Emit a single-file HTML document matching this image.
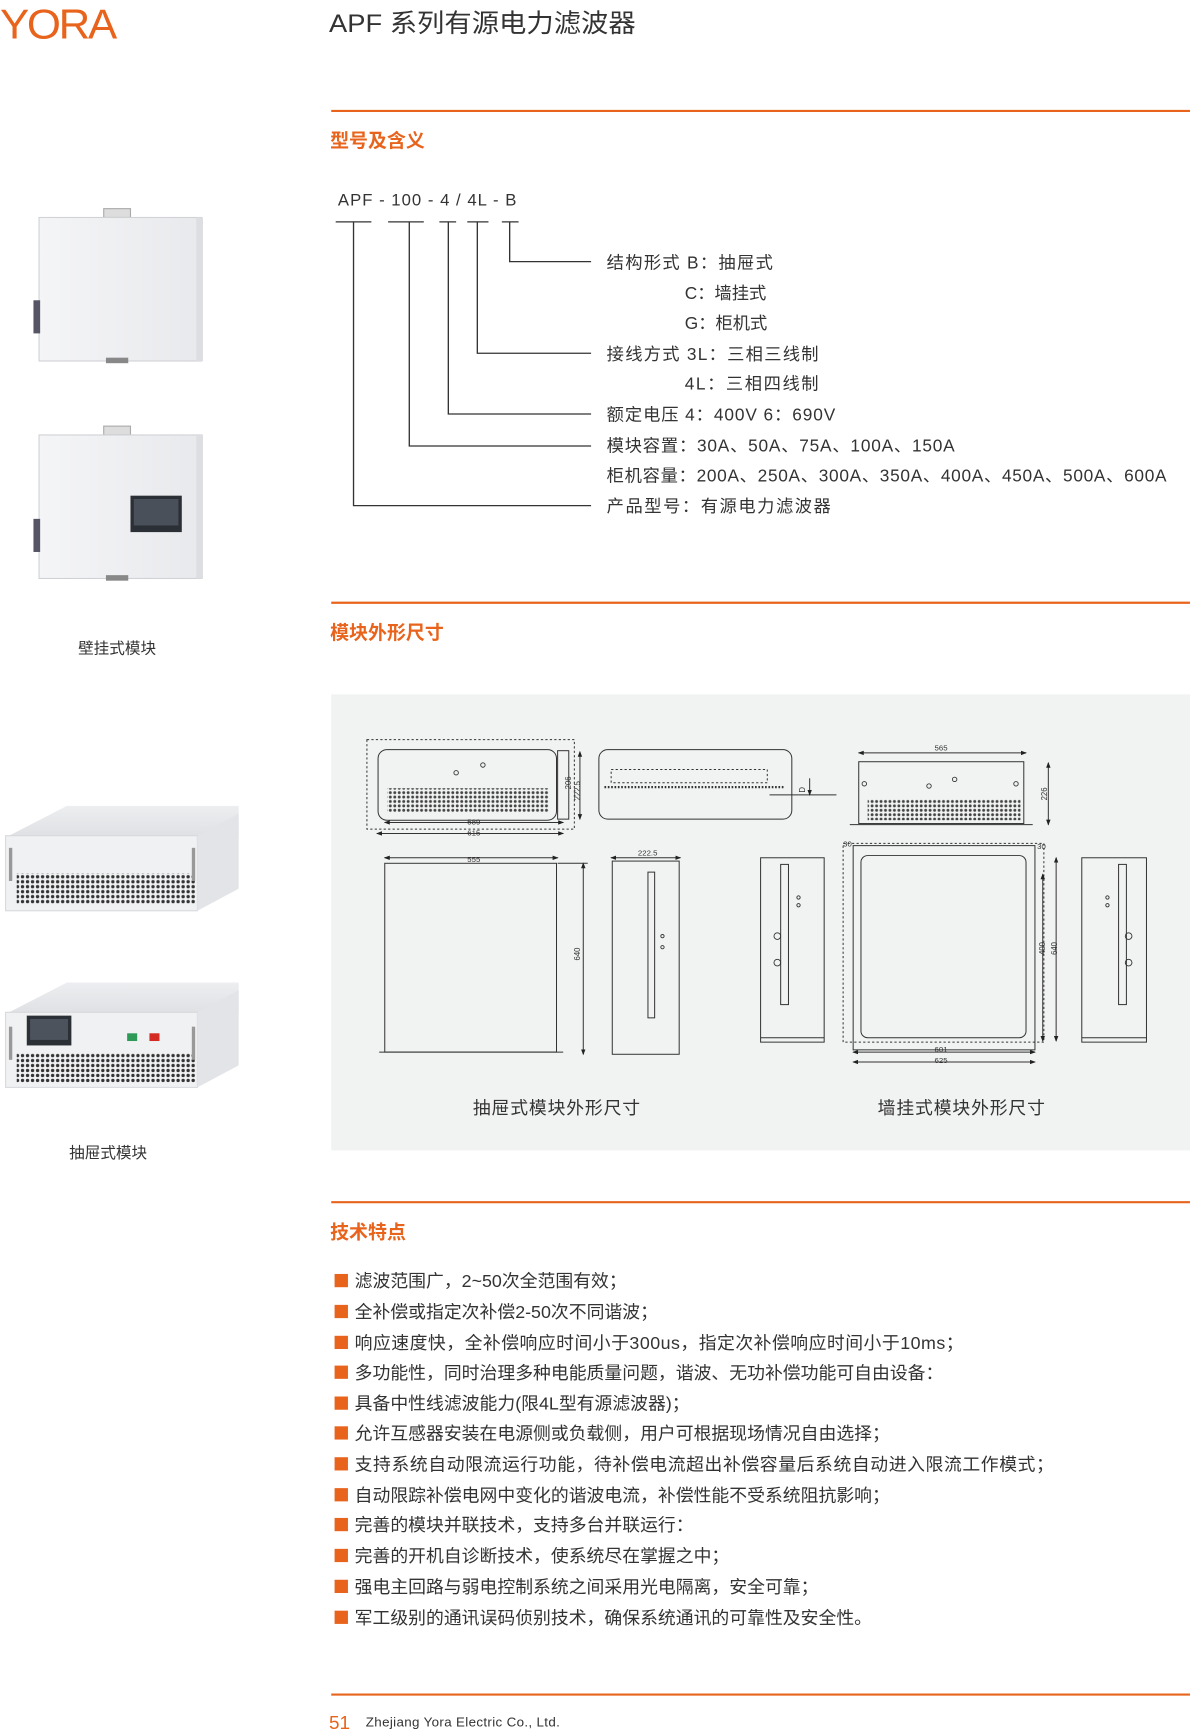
<!DOCTYPE html>
<html><head><meta charset="utf-8"><style>
html,body{margin:0;padding:0;background:#fff;}
svg{display:block;}
text{font-family:"Liberation Sans","Noto Sans CJK SC",sans-serif;}
</style></head><body>
<svg width="1200" height="1731" viewBox="0 0 1076 1568" preserveAspectRatio="none" xmlns="http://www.w3.org/2000/svg">
<defs>
<pattern id="hex" width="4" height="4" patternUnits="userSpaceOnUse"><circle cx="2" cy="2" r="1.3" fill="#444"/></pattern>
<pattern id="hex2" width="4.5" height="4.5" patternUnits="userSpaceOnUse"><circle cx="2.2" cy="2.2" r="1.5" fill="#333"/></pattern>
<linearGradient id="wall" x1="0" x2="1"><stop offset="0" stop-color="#f4f5f7"/><stop offset="1" stop-color="#e8e9ec"/></linearGradient>
<linearGradient id="top" x1="0" y1="0" x2="0" y2="1"><stop offset="0" stop-color="#eceef0"/><stop offset="1" stop-color="#dfe1e4"/></linearGradient>
<marker id="ar" markerWidth="6" markerHeight="6" refX="5" refY="3" orient="auto-start-reverse"><path d="M0,0.8 L6,3 L0,5.2z" fill="#222"/></marker>
</defs>

<!-- header -->
<text x="0" y="35" font-size="38" fill="#e8641c" letter-spacing="-2" textLength="103" lengthAdjust="spacingAndGlyphs">YORA</text>
<text x="295" y="29" font-size="23" fill="#333" textLength="275" lengthAdjust="spacingAndGlyphs">APF 系列有源电力滤波器</text>

<!-- section 1 -->
<line x1="297" y1="100.5" x2="1067" y2="100.5" stroke="#e8641c" stroke-width="2"/>
<text x="296" y="133" font-size="17" font-weight="bold" fill="#e8641c">型号及含义</text>

<g font-size="15" fill="#333">
<text x="303" y="186" textLength="160" lengthAdjust="spacing">APF  -  100  - 4 / 4L - B</text>
</g>
<g stroke="#333" stroke-width="1.2" fill="none">
<line x1="301" y1="201" x2="333" y2="201"/>
<line x1="348" y1="201" x2="380" y2="201"/>
<line x1="394" y1="201" x2="409" y2="201"/>
<line x1="419" y1="201" x2="438" y2="201"/>
<line x1="450" y1="201" x2="465" y2="201"/>
<polyline points="457,201 457,237 530,237"/>
<polyline points="428,201 428,320 530,320"/>
<polyline points="402,201 402,375 530,375"/>
<polyline points="367,201 367,404 530,404"/>
<polyline points="317,201 317,458 530,458"/>
</g>
<g font-size="15.5" fill="#333">
<text x="544" y="243" textLength="149" lengthAdjust="spacing">结构形式 B：抽屉式</text>
<text x="614" y="271">C：墙挂式</text>
<text x="614" y="298">G：柜机式</text>
<text x="544" y="326" textLength="190" lengthAdjust="spacing">接线方式 3L：三相三线制</text>
<text x="614" y="353" textLength="120" lengthAdjust="spacing">4L：三相四线制</text>
<text x="544" y="381" textLength="205" lengthAdjust="spacing">额定电压 4：400V  6：690V</text>
<text x="544" y="409" textLength="312" lengthAdjust="spacing">模块容置：30A、50A、75A、100A、150A</text>
<text x="544" y="436" textLength="502" lengthAdjust="spacing">柜机容量：200A、250A、300A、350A、400A、450A、500A、600A</text>
<text x="544" y="464" textLength="201" lengthAdjust="spacing">产品型号：有源电力滤波器</text>
</g>

<!-- wall module photos -->
<g>
<rect x="93" y="189" width="24" height="8" fill="#ddd" stroke="#aaa"/>
<rect x="35" y="197" width="146" height="130" fill="url(#wall)" stroke="#d0d2d5"/>
<rect x="176" y="197" width="6" height="130" fill="#dcdee1"/>
<rect x="30" y="272" width="6" height="30" fill="#556"/>
<rect x="95" y="324" width="20" height="5" fill="#888"/>
</g>
<g>
<rect x="93" y="386" width="24" height="8" fill="#ddd" stroke="#aaa"/>
<rect x="35" y="394" width="146" height="130" fill="url(#wall)" stroke="#d0d2d5"/>
<rect x="176" y="394" width="6" height="130" fill="#dcdee1"/>
<rect x="30" y="470" width="6" height="30" fill="#556"/>
<rect x="117" y="449" width="46" height="33" fill="#2b2f36"/>
<rect x="120" y="452" width="40" height="24" fill="#4a5059"/>
<rect x="95" y="521" width="20" height="5" fill="#888"/>
</g>
<text x="70" y="592" font-size="14" fill="#333">壁挂式模块</text>

<!-- section 2 -->
<line x1="297" y1="546" x2="1067" y2="546" stroke="#e8641c" stroke-width="2"/>
<text x="296" y="579" font-size="17" font-weight="bold" fill="#e8641c">模块外形尺寸</text>

<!-- drawer photos -->
<g>
<polygon points="8,757 60,730 214,730 214,757" fill="url(#top)"/>
<rect x="5" y="757" width="172" height="68" fill="#f0f1f3" stroke="#d8d9dc"/>
<polygon points="177,757 214,737 214,805 177,825" fill="#e2e4e7"/>
<rect x="15" y="791" width="160" height="28" fill="url(#hex2)"/>
<rect x="8" y="768" width="3" height="30" fill="#999"/>
<rect x="172" y="768" width="3" height="30" fill="#999"/>
</g>
<g>
<polygon points="8,917 60,890 214,890 214,917" fill="url(#top)"/>
<rect x="5" y="917" width="172" height="68" fill="#f0f1f3" stroke="#d8d9dc"/>
<polygon points="177,917 214,897 214,965 177,985" fill="#e2e4e7"/>
<rect x="15" y="954" width="160" height="27" fill="url(#hex2)"/>
<rect x="24" y="920" width="40" height="27" fill="#2b2f36"/>
<rect x="27" y="923" width="34" height="19" fill="#4d535c"/>
<rect x="114" y="936" width="9" height="7" fill="#2e9a58"/>
<rect x="134" y="936" width="9" height="7" fill="#d42a22"/>
<rect x="8" y="930" width="3" height="30" fill="#999"/>
<rect x="172" y="930" width="3" height="30" fill="#999"/>
</g>
<text x="62" y="1049" font-size="14" fill="#333">抽屉式模块</text>

<!-- drawing box -->
<rect x="297" y="629" width="770" height="413" fill="#f1f2f2"/>
<g stroke="#333" stroke-width="0.9" fill="none">
<rect x="329" y="670" width="186" height="81" stroke-dasharray="2,2"/>
<rect x="339" y="679" width="160" height="64" rx="8"/>
<rect x="347" y="714" width="145" height="22" fill="url(#hex)" stroke="none"/>
<rect x="500" y="680" width="10" height="62"/>
<line x1="520" y1="681" x2="520" y2="742" marker-start="url(#ar)" marker-end="url(#ar)"/>
<line x1="345" y1="745" x2="505" y2="745" marker-start="url(#ar)" marker-end="url(#ar)"/>
<line x1="338" y1="755" x2="505" y2="755" marker-start="url(#ar)" marker-end="url(#ar)"/>
<rect x="537" y="679" width="173" height="63" rx="8"/>
<line x1="542" y1="713" x2="704" y2="713" stroke-dasharray="1.5,1.5" stroke-width="2"/>
<rect x="548" y="697" width="140" height="12" stroke-dasharray="2,2"/>
<line x1="690" y1="720" x2="750" y2="720"/>
<line x1="726" y1="705" x2="726" y2="720" marker-end="url(#ar)"/>
<line x1="345" y1="777" x2="500" y2="777" marker-start="url(#ar)" marker-end="url(#ar)"/>
<rect x="345" y="782" width="154" height="171"/>
<line x1="340" y1="953" x2="505" y2="953"/>
<line x1="523" y1="782" x2="523" y2="955" marker-start="url(#ar)" marker-end="url(#ar)"/>
<line x1="500" y1="782" x2="527" y2="782"/>
<line x1="548" y1="777" x2="610" y2="777" marker-start="url(#ar)" marker-end="url(#ar)"/>
<rect x="549" y="780" width="60" height="175"/>
<rect x="581" y="790" width="6" height="132"/>
<line x1="770" y1="682" x2="920" y2="682" marker-start="url(#ar)" marker-end="url(#ar)"/>
<rect x="770" y="690" width="148" height="56"/>
<line x1="762" y1="747" x2="926" y2="747"/>
<rect x="778" y="724" width="137" height="19" fill="url(#hex)" stroke="none"/>
<line x1="940" y1="691" x2="940" y2="747" marker-start="url(#ar)" marker-end="url(#ar)"/>
<rect x="682" y="777" width="57" height="167"/>
<rect x="700" y="783" width="7" height="127"/>
<line x1="682" y1="940" x2="739" y2="940"/>
<rect x="756" y="764" width="180" height="180" stroke-dasharray="2,2"/>
<rect x="765" y="766" width="163" height="185"/>
<rect x="772" y="775" width="148" height="165" rx="6"/>
<line x1="765" y1="953" x2="928" y2="953" marker-start="url(#ar)" marker-end="url(#ar)"/>
<line x1="765" y1="962" x2="928" y2="962" marker-start="url(#ar)" marker-end="url(#ar)"/>
<line x1="947" y1="777" x2="947" y2="943" marker-start="url(#ar)" marker-end="url(#ar)"/>
<line x1="935" y1="792" x2="935" y2="943" marker-start="url(#ar)" marker-end="url(#ar)"/>
<rect x="970" y="777" width="58" height="167"/>
<rect x="1003" y="783" width="7" height="127"/>
<line x1="970" y1="940" x2="1028" y2="940"/>
</g>
<g fill="none" stroke="#333" stroke-width="0.8">
<circle cx="775" cy="710" r="2"/><circle cx="833" cy="712" r="2"/><circle cx="856" cy="706" r="2"/><circle cx="911" cy="710" r="2"/>
<circle cx="716" cy="813" r="1.5"/><circle cx="716" cy="820" r="1.5"/><circle cx="697" cy="848" r="3"/><circle cx="697" cy="872" r="3"/>
<circle cx="993" cy="813" r="1.5"/><circle cx="993" cy="820" r="1.5"/><circle cx="1012" cy="848" r="3"/><circle cx="1012" cy="872" r="3"/>
<circle cx="433" cy="693" r="2"/><circle cx="409" cy="700" r="2"/><circle cx="594" cy="848" r="1.5"/><circle cx="594" cy="858" r="1.5"/>
</g>
<g font-size="7" fill="#333" font-family="Liberation Sans,sans-serif">
<text x="419" y="747">589</text><text x="419" y="757">615</text>
<text x="419" y="781">555</text><text x="572" y="775">222.5</text>
<text x="838" y="680">565</text><text x="838" y="953">601</text><text x="838" y="963">625</text>
<text x="756" y="767">30</text><text x="930" y="769">30</text>
<text transform="translate(520,870) rotate(-90)">640</text>
<text transform="translate(939,725) rotate(-90)">226</text>
<text transform="translate(948,865) rotate(-90)">640</text>
<text transform="translate(937,865) rotate(-90)">400</text>
<text transform="translate(512,715) rotate(-90)">206</text>
<text transform="translate(520,725) rotate(-90)">222.5</text>
<text transform="translate(722,718) rotate(-90)">D</text>
</g>
<text x="424" y="1009" font-size="16" fill="#333" textLength="150" lengthAdjust="spacing">抽屉式模块外形尺寸</text>
<text x="787" y="1009" font-size="16" fill="#333" textLength="150" lengthAdjust="spacing">墙挂式模块外形尺寸</text>

<!-- section 3 -->
<line x1="297" y1="1089" x2="1067" y2="1089" stroke="#e8641c" stroke-width="2"/>
<text x="296" y="1122" font-size="17" font-weight="bold" fill="#e8641c">技术特点</text>
<g font-size="16" fill="#333">
<rect x="300" y="1154" width="12" height="12" fill="#e8641c"/><text x="318" y="1166">滤波范围广，2~50次全范围有效；</text>
<rect x="300" y="1182" width="12" height="12" fill="#e8641c"/><text x="318" y="1194">全补偿或指定次补偿2-50次不同谐波；</text>
<rect x="300" y="1210" width="12" height="12" fill="#e8641c"/><text x="318" y="1222" textLength="546" lengthAdjust="spacing">响应速度快，全补偿响应时间小于300us，指定次补偿响应时间小于10ms；</text>
<rect x="300" y="1237" width="12" height="12" fill="#e8641c"/><text x="318" y="1249">多功能性，同时治理多种电能质量问题，谐波、无功补偿功能可自由设备：</text>
<rect x="300" y="1265" width="12" height="12" fill="#e8641c"/><text x="318" y="1277">具备中性线滤波能力(限4L型有源滤波器)；</text>
<rect x="300" y="1292" width="12" height="12" fill="#e8641c"/><text x="318" y="1304">允许互感器安装在电源侧或负载侧，用户可根据现场情况自由选择；</text>
<rect x="300" y="1320" width="12" height="12" fill="#e8641c"/><text x="318" y="1332" textLength="627" lengthAdjust="spacing">支持系统自动限流运行功能，待补偿电流超出补偿容量后系统自动进入限流工作模式；</text>
<rect x="300" y="1348" width="12" height="12" fill="#e8641c"/><text x="318" y="1360">自动限踪补偿电网中变化的谐波电流，补偿性能不受系统阻抗影响；</text>
<rect x="300" y="1375" width="12" height="12" fill="#e8641c"/><text x="318" y="1387">完善的模块并联技术，支持多台并联运行：</text>
<rect x="300" y="1403" width="12" height="12" fill="#e8641c"/><text x="318" y="1415">完善的开机自诊断技术，使系统尽在掌握之中；</text>
<rect x="300" y="1431" width="12" height="12" fill="#e8641c"/><text x="318" y="1443">强电主回路与弱电控制系统之间采用光电隔离，安全可靠；</text>
<rect x="300" y="1459" width="12" height="12" fill="#e8641c"/><text x="318" y="1471">军工级别的通讯误码侦别技术，确保系统通讯的可靠性及安全性。</text>
</g>

<!-- footer -->
<line x1="297" y1="1535" x2="1067" y2="1535" stroke="#e8641c" stroke-width="2"/>
<text x="295" y="1566" font-size="17" fill="#e8641c">51</text>
<text x="328" y="1564" font-size="12" fill="#333" textLength="174" lengthAdjust="spacing">Zhejiang Yora Electric Co., Ltd.</text>
</svg>
</body></html>
